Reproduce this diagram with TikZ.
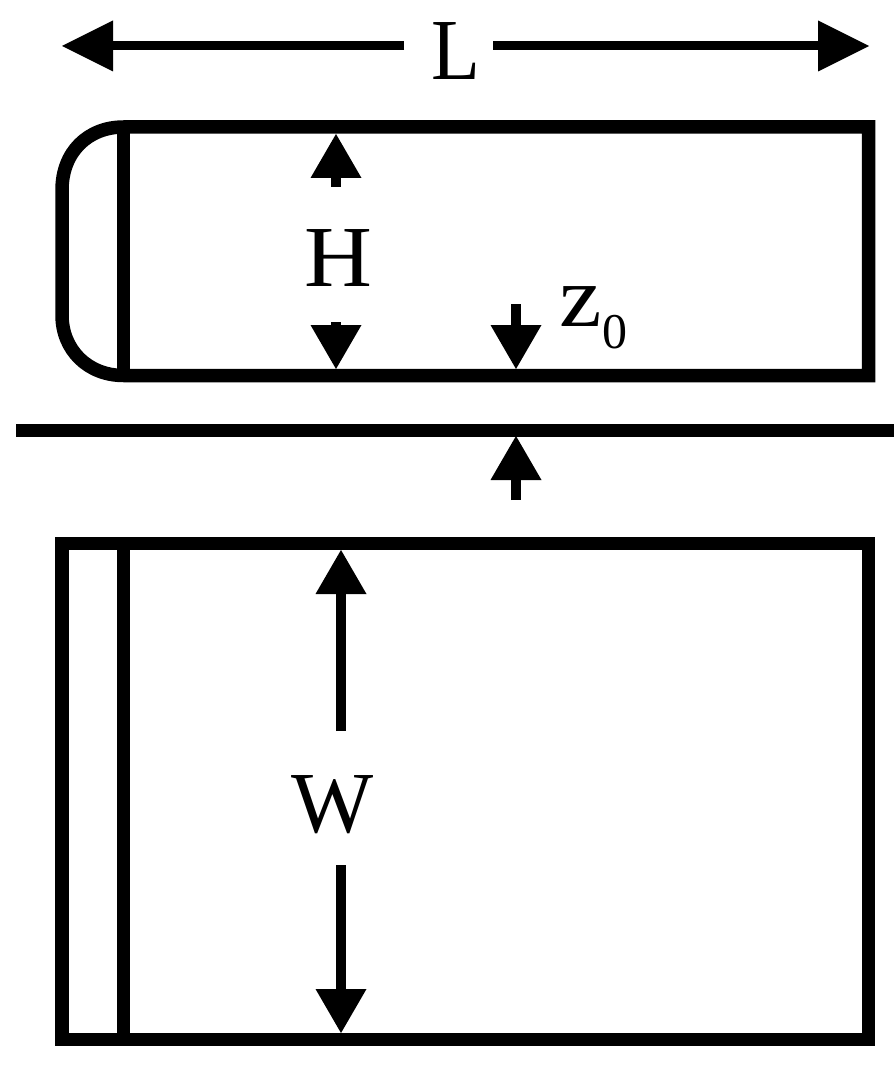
\documentclass[tikz,border=0pt]{standalone}
\usepackage{fontspec}
\setmainfont{Liberation Serif}
\usetikzlibrary{arrows.meta}
\tikzset{
  wall/.style={line width=13.5pt,line join=miter,line cap=butt},
  dimtip/.tip={Triangle[length=44pt,width=51pt,line width=0pt]},
  longtip/.tip={Triangle[length=51pt,width=51pt,line width=0pt]},
  dimline/.style={line width=10pt,-{dimtip}},
  longline/.style={line width=9pt,-{longtip}},
  lab/.style={inner sep=0pt,anchor=base,font=\fontsize{87}{87}\selectfont},
}
\begin{document}
\begin{tikzpicture}[x=1pt,y=-1pt]
\useasboundingbox[fill=white] (0,0) rectangle (894,1067);
% labels
\node[lab] (L) at (456,80) {\scalebox{0.92}[1]{L}};
\node[lab] (H) at (338,286) {\scalebox{1.08}[1]{H}};
\node[lab] (W) at (332.5,832) {W};
\node[lab,anchor=base west] (Z) at (559,326) {\scalebox{1.1}[1]{z}\hspace{0.5pt}\raisebox{-22pt}{\fontsize{50}{50}\selectfont 0}};
% coordinates
\coordinate (La) at (404,46); \coordinate (Lb) at (62,46);
\coordinate (Lc) at (493,46); \coordinate (Ld) at (869,46);
\coordinate (Ha) at (336,187); \coordinate (Hb) at (336,134);
\coordinate (Hc) at (336,322); \coordinate (Hd) at (336,369);
\coordinate (Za) at (516,304); \coordinate (Zb) at (516,369);
\coordinate (Zc) at (516,500); \coordinate (Zd) at (516,436);
\coordinate (Wa) at (341,731); \coordinate (Wb) at (341,550);
\coordinate (Wc) at (341,865); \coordinate (Wd) at (341,1033);
\coordinate (Ga) at (16,430.5); \coordinate (Gb) at (894,430.5);
% upper body
\draw[wall] (123.5,127) -- (868.5,127) -- (868.5,375.5) -- (123.5,375.5)
  .. controls (88,375.5) and (62,350) .. (62,315) -- (62,190)
  .. controls (62,152) and (88,127) .. (123.5,127) -- cycle;
\draw[wall] (123.5,127) -- (123.5,375.5);
% ground line
\draw[wall] (Ga) -- (Gb);
% lower body
\draw[wall] (62,543.5) rectangle (868.5,1039.5);
\draw[wall] (123.5,543.5) -- (123.5,1039.5);
% arrows
\draw[longline] (La) -- (Lb);
\draw[longline] (Lc) -- (Ld);
\draw[dimline] (Ha) -- (Hb);
\draw[dimline] (Hc) -- (Hd);
\draw[dimline] (Za) -- (Zb);
\draw[dimline] (Zc) -- (Zd);
\draw[dimline] (Wa) -- (Wb);
\draw[dimline] (Wc) -- (Wd);
\end{tikzpicture}
\end{document}
